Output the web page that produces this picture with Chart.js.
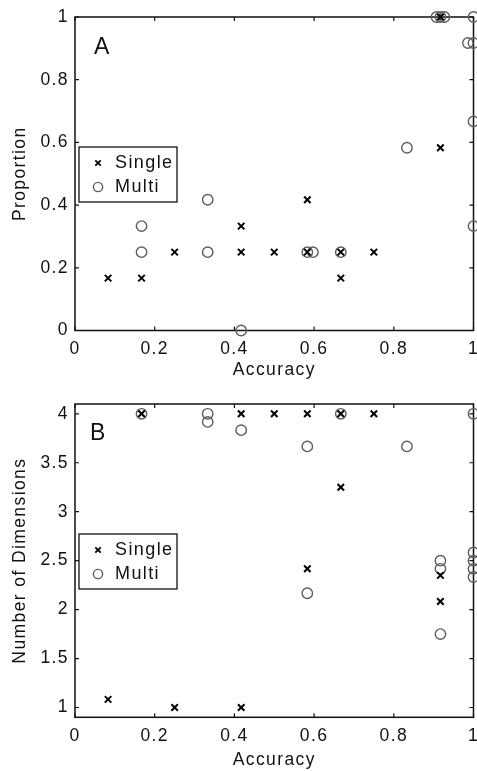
<!DOCTYPE html>
<html>
<head>
<meta charset="utf-8">
<script src="https://cdn.jsdelivr.net/npm/chart.js@4/dist/chart.umd.min.js"></script>
<style>
  html, body { margin: 0; padding: 0; background: #fff; }
  #wrap { position: relative; width: 477px; height: 771px; }
  canvas { position: absolute; left: 0; }
  #chartA { top: 0; }
  #chartB { top: 385px; }
</style>
</head>
<body>
<div id="wrap">
  <canvas id="chartA" width="477" height="385"></canvas>
  <canvas id="chartB" width="477" height="386"></canvas>
</div>
<script>
// tick values
const xTicks = [0, 0.2, 0.4, 0.6, 0.8, 1];
const yTicksA = [0, 0.2, 0.4, 0.6, 0.8, 1];
const yTicksB = [1, 1.5, 2, 2.5, 3, 3.5, 4];

// panel A: proportion vs accuracy
const singleAx = [0.083, 0.167, 0.25, 0.417, 0.417, 0.5, 0.583, 0.583, 0.667, 0.667, 0.75, 0.917, 0.917];
const singleAy = [0.167, 0.167, 0.25, 0.333, 0.25, 0.25, 0.417, 0.25, 0.25, 0.167, 0.25, 0.583, 1];
const multiAx = [0.167, 0.167, 0.333, 0.333, 0.417, 0.583, 0.597, 0.667, 0.833, 0.907, 0.917, 0.927, 1, 0.986, 1, 1, 1];
const multiAy = [0.333, 0.25, 0.417, 0.25, 0, 0.25, 0.25, 0.25, 0.583, 1, 1, 1, 1, 0.917, 0.917, 0.667, 0.333];

// panel B: number of dimensions vs accuracy
const singleBx = [0.083, 0.167, 0.25, 0.417, 0.417, 0.5, 0.583, 0.583, 0.667, 0.667, 0.75, 0.917, 0.917];
const singleBy = [1.083, 4, 1, 4, 1, 4, 4, 2.417, 4, 3.25, 4, 2.35, 2.083];
const multiBx = [0.167, 0.333, 0.333, 0.417, 0.583, 0.583, 0.667, 0.833, 0.917, 0.917, 0.917, 1, 1, 1, 1, 1];
const multiBy = [4, 4, 3.917, 3.833, 3.667, 2.167, 4, 3.667, 2.5, 2.417, 1.75, 4, 2.583, 2.5, 2.417, 2.333];

const FONT = "'Liberation Sans', Arial, Helvetica, sans-serif";
const CROSS = '#000';
const CIRCLE = '#5c5c5c';

function pts(xs, ys) {
    return xs.map((x, i) => ({ x: x, y: ys[i] }));
}

function fmt(v) {
    return String(Math.round(v * 10) / 10);
}

// no extra room for the end labels, the plot box is fixed
function noPad(s) {
    s.paddingLeft = 0;
    s.paddingRight = 0;
    s.paddingTop = 0;
    s.paddingBottom = 0;
}

// the original helvetica is set a bit wider than arial
const spacingPlugin = {
    id: 'spacing',
    beforeDraw(chart) {
        chart.ctx.letterSpacing = '1.4px';
    }
};

// box + inward ticks like the matlab axes
const boxPlugin = {
    id: 'boxTicks',
    beforeDatasetsDraw(chart) {
        const ctx = chart.ctx;
        const a = chart.chartArea;
        const xs = chart.scales.x, ys = chart.scales.y;
        const len = 4;
        ctx.save();
        ctx.strokeStyle = '#111';
        ctx.lineWidth = 1.5;
        ctx.strokeRect(a.left, a.top, a.right - a.left, a.bottom - a.top);
        ctx.lineWidth = 1.2;
        ctx.beginPath();
        xs.ticks.forEach(t => {
            const px = xs.getPixelForValue(t.value);
            ctx.moveTo(px, a.bottom); ctx.lineTo(px, a.bottom - len);
            ctx.moveTo(px, a.top); ctx.lineTo(px, a.top + len);
        });
        ys.ticks.forEach(t => {
            const py = ys.getPixelForValue(t.value);
            ctx.moveTo(a.left, py); ctx.lineTo(a.left + len, py);
            ctx.moveTo(a.right, py); ctx.lineTo(a.right - len, py);
        });
        ctx.stroke();
        ctx.restore();
    }
};

// panel letter and the boxed legend
const legendPlugin = {
    id: 'boxLegend',
    afterDatasetsDraw(chart, args, opts) {
        const ctx = chart.ctx;
        ctx.save();
        ctx.fillStyle = '#111';
        ctx.font = '23px ' + FONT;
        ctx.textBaseline = 'alphabetic';
        ctx.fillText(opts.letter, opts.letterX, opts.letterY);

        const bx = opts.boxX, by = opts.boxY, bw = 98, bh = 55;
        ctx.fillStyle = '#fff';
        ctx.fillRect(bx, by, bw, bh);
        ctx.strokeStyle = '#111';
        ctx.lineWidth = 1.3;
        ctx.strokeRect(bx, by, bw, bh);

        // cross marker
        const cx = bx + 19, cy1 = by + 16;
        ctx.strokeStyle = CROSS;
        ctx.lineWidth = 1.8;
        ctx.beginPath();
        ctx.moveTo(cx - 2.7, cy1 - 2.7); ctx.lineTo(cx + 2.7, cy1 + 2.7);
        ctx.moveTo(cx + 2.7, cy1 - 2.7); ctx.lineTo(cx - 2.7, cy1 + 2.7);
        ctx.stroke();
        // circle marker
        const cy2 = by + 40;
        ctx.strokeStyle = CIRCLE;
        ctx.lineWidth = 1.4;
        ctx.beginPath();
        ctx.arc(cx, cy2, 4.6, 0, Math.PI * 2);
        ctx.stroke();

        ctx.fillStyle = '#111';
        ctx.font = '18px ' + FONT;
        ctx.textBaseline = 'middle';
        ctx.fillText('Single', bx + 36, cy1 + 0.5);
        ctx.fillText('Multi', bx + 36, cy2 + 0.5);
        ctx.restore();
    }
};

function makeChart(id, cfg) {
    return new Chart(document.getElementById(id), {
        type: 'scatter',
        data: {
            datasets: [{
                label: 'Single',
                data: pts(cfg.sx, cfg.sy),
                pointStyle: 'crossRot',
                pointRadius: 4.6,
                pointHoverRadius: 4.6,
                pointBorderWidth: 2,
                borderColor: CROSS,
                backgroundColor: CROSS,
                clip: false
            }, {
                label: 'Multi',
                data: pts(cfg.mx, cfg.my),
                pointStyle: 'circle',
                pointRadius: 5.2,
                pointHoverRadius: 5.2,
                pointBorderWidth: 1.4,
                borderColor: CIRCLE,
                backgroundColor: 'rgba(0,0,0,0)',
                clip: false
            }]
        },
        options: {
            responsive: false,
            animation: false,
            devicePixelRatio: 1,
            events: [],
            layout: {
                autoPadding: false,
                padding: { left: 0, top: cfg.top, right: 3.5, bottom: 0 }
            },
            scales: {
                x: {
                    type: 'linear',
                    min: 0,
                    max: 1,
                    afterBuildTicks: s => { s.ticks = xTicks.map(v => ({ value: v })); },
                    afterFit: s => { s.height = cfg.xh; noPad(s); },
                    grid: { display: false, drawTicks: false },
                    border: { display: false },
                    ticks: {
                        color: '#111',
                        padding: 8,
                        maxRotation: 0,
                        font: { family: FONT, size: 17.5 },
                        callback: v => fmt(v)
                    },
                    title: {
                        display: true,
                        text: 'Accuracy',
                        color: '#111',
                        font: { family: FONT, size: 17.5 },
                        padding: { top: 0, bottom: cfg.xtPad }
                    }
                },
                y: {
                    type: 'linear',
                    min: cfg.ymin,
                    max: cfg.ymax,
                    afterBuildTicks: s => { s.ticks = cfg.yTicks.map(v => ({ value: v })); },
                    afterFit: s => { s.width = 75; noPad(s); },
                    grid: { display: false, drawTicks: false },
                    border: { display: false },
                    ticks: {
                        color: '#111',
                        padding: 6,
                        font: { family: FONT, size: 17.5 },
                        callback: v => fmt(v)
                    },
                    title: {
                        display: true,
                        text: cfg.ytitle,
                        color: '#111',
                        font: { family: FONT, size: 17.5 },
                        padding: { top: 9.5, bottom: 0 }
                    }
                }
            },
            plugins: {
                legend: { display: false },
                tooltip: { enabled: false },
                boxLegend: cfg.legend
            }
        },
        plugins: [spacingPlugin, boxPlugin, legendPlugin]
    });
}

makeChart('chartA', {
    sx: singleAx, sy: singleAy, mx: multiAx, my: multiAy,
    ymin: 0, ymax: 1, yTicks: yTicksA,
    top: 17, xh: 385 - 330.5, xtPad: 4.5,
    ytitle: 'Proportion',
    legend: { letter: 'A', letterX: 94, letterY: 54, boxX: 79, boxY: 147 }
});

makeChart('chartB', {
    sx: singleBx, sy: singleBy, mx: multiBx, my: multiBy,
    ymin: 0.9, ymax: 4.1, yTicks: yTicksB,
    top: 19, xh: 386 - 332.3, xtPad: 0,
    ytitle: 'Number of Dimensions',
    legend: { letter: 'B', letterX: 90, letterY: 55, boxX: 79, boxY: 149 }
});
</script>
</body>
</html>
